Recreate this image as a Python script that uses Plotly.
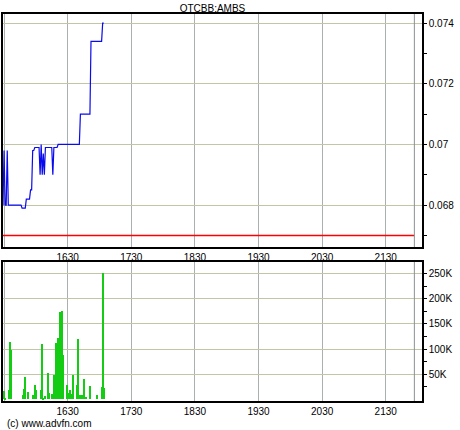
import pandas as pd
import plotly.graph_objects as go

DAY = "2024-01-02 "
title_text = "OTCBB:AMBS"
credit_text = "(c) www.advfn.com"

# price trace (time, price)
price_times = ["15:29", "15:30", "15:31", "15:32", "15:33", "15:34", "15:46", "15:47",
               "15:50", "15:51", "15:54", "15:55", "15:56", "15:57", "15:58", "15:59",
               "16:03", "16:04", "16:05", "16:06", "16:07", "16:08", "16:09", "16:15",
               "16:16", "16:17", "16:20", "16:21", "16:41", "16:42", "16:51", "16:52",
               "17:02", "17:03", "17:04"]
prices = [0.0680, 0.0698, 0.0680, 0.0680, 0.0698, 0.0680, 0.0680, 0.0679,
          0.0679, 0.0682, 0.0682, 0.0685, 0.0685, 0.0698, 0.0698, 0.0699,
          0.0699, 0.0690, 0.0700, 0.0690, 0.0697, 0.0690, 0.0699, 0.0699,
          0.0690, 0.0699, 0.0699, 0.0700, 0.0700, 0.0710, 0.0710, 0.0734,
          0.0734, 0.0740, 0.0740]

prev_close = 0.067

# volume bars (time, shares)
vol_times = ["15:30", "15:31", "15:35", "15:36", "15:37", "15:48", "15:49", "15:50",
             "15:53", "15:57", "15:59", "16:00", "16:05", "16:06", "16:07", "16:09",
             "16:11", "16:12", "16:15", "16:16", "16:17", "16:19", "16:21", "16:23",
             "16:24", "16:25", "16:26", "16:29", "16:30", "16:32", "16:33", "16:35",
             "16:39", "16:40", "16:41", "16:43", "16:44", "16:45", "16:47", "16:51",
             "16:58", "17:02", "17:03", "17:04"]
volumes = [17000, 3000, 19000, 115000, 99000, 9000, 21000, 45000,
           15000, 9000, 29000, 19000, 19000, 111000, 3000, 7000,
           53000, 13000, 11000, 7000, 49000, 113000, 123000, 173000,
           65000, 175000, 89000, 29000, 13000, 19000, 11000, 49000,
           29000, 121000, 8000, 9000, 9000, 41000, 5000, 27000,
           9000, 25000, 251000, 23000]

price_tickvals = [0.068, 0.070, 0.072, 0.074]
price_ticktext = ["0.068", "0.07", "0.072", "0.074"]
price_minor = [0.067, 0.069, 0.071, 0.073]
vol_tickvals = [50000, 100000, 150000, 200000, 250000]
vol_ticktext = ["50K", "100K", "150K", "200K", "250K"]
vol_minor = [25000, 75000, 125000, 175000, 225000]

x_start = "15:29"
x_end = "22:04:12"
first_tick = "16:30"
session_end = "21:57"

pt = pd.to_datetime([DAY + t for t in price_times])
vt = pd.to_datetime([DAY + t for t in vol_times])
ref_x = pd.to_datetime([DAY + x_start, DAY + session_end])

FONT = dict(family="Liberation Sans, Arial, sans-serif", size=10, color="black")
GRID_V = "#a8b0b0"
GRID_H = "#c2c6a6"

fig = go.Figure()
fig.add_trace(go.Scatter(x=ref_x, y=[prev_close, prev_close], mode="lines",
                         xaxis="x", yaxis="y", line=dict(color="#ff0000", width=1.5),
                         showlegend=False, hoverinfo="skip"))
fig.add_trace(go.Scatter(x=pt, y=prices, mode="lines", xaxis="x", yaxis="y",
                         line=dict(color="#0a0aee", width=1.2), showlegend=False,
                         hoverinfo="skip"))
fig.add_trace(go.Bar(x=vt, y=volumes, xaxis="x2", yaxis="y2", width=60000,
                     marker=dict(color="#14cc14", line=dict(width=0)),
                     showlegend=False, hoverinfo="skip"))

xcommon = dict(type="date", range=[DAY + x_start, DAY + x_end], tickformat="%H%M",
               dtick=3600000, tick0=DAY + first_tick, showgrid=True, gridcolor=GRID_V,
               gridwidth=1, showline=True, linecolor="black", linewidth=1.5, mirror=True,
               ticks="", tickfont=FONT, zeroline=False, automargin=False)

fig.update_layout(
    width=460, height=430,
    margin=dict(l=3, r=38, t=14, b=29, autoexpand=False),
    paper_bgcolor="white", plot_bgcolor="white",
    bargap=0,
    xaxis=dict(domain=[0, 1], anchor="y", **xcommon),
    xaxis2=dict(domain=[0, 1], anchor="y2", **xcommon),
    yaxis=dict(domain=[0.39793, 1], anchor="x", side="right", automargin=False,
               range=[0.06662, 0.07430], tickvals=price_tickvals, ticktext=price_ticktext,
               showgrid=True, gridcolor=GRID_H, showline=True, linecolor="black",
               linewidth=1.5, mirror=True, ticks="outside", ticklen=3, tickcolor="black",
               tickfont=FONT, zeroline=False,
               minor=dict(tickvals=price_minor, ticks="outside", ticklen=3,
                          tickcolor="black", showgrid=False)),
    yaxis2=dict(domain=[0, 0.35917], anchor="x2", side="right", automargin=False,
                range=[-3000, 273000], tickvals=vol_tickvals, ticktext=vol_ticktext,
                showgrid=True, gridcolor=GRID_H, showline=True, linecolor="black",
                linewidth=1.5, mirror=True, ticks="outside", ticklen=3, tickcolor="black",
                tickfont=FONT, zeroline=False,
                minor=dict(tickvals=vol_minor, ticks="outside", ticklen=3,
                           tickcolor="black", showgrid=False)),
    title=dict(text=title_text, x=212.5 / 460, xanchor="center", y=1 - 8 / 430,
               yanchor="middle", font=FONT, automargin=False),
    annotations=[dict(text=credit_text, xref="paper", yref="paper", x=0.005,
                      y=-0.057, xanchor="left", yanchor="middle", showarrow=False,
                      font=dict(family="Liberation Sans, Arial, sans-serif", size=10,
                                color="black"))],
    shapes=[
        dict(type="line", xref="x", yref="y domain", x0=DAY + session_end,
             x1=DAY + session_end, y0=0, y1=1, line=dict(color="#8a9090", width=1)),
        dict(type="line", xref="x2", yref="y2 domain", x0=DAY + session_end,
             x1=DAY + session_end, y0=0, y1=1, line=dict(color="#8a9090", width=1)),
    ],
)

fig.write_html("out.html", config={"displayModeBar": False},
               post_script="document.body.style.margin='0';document.body.style.overflow='hidden';")
